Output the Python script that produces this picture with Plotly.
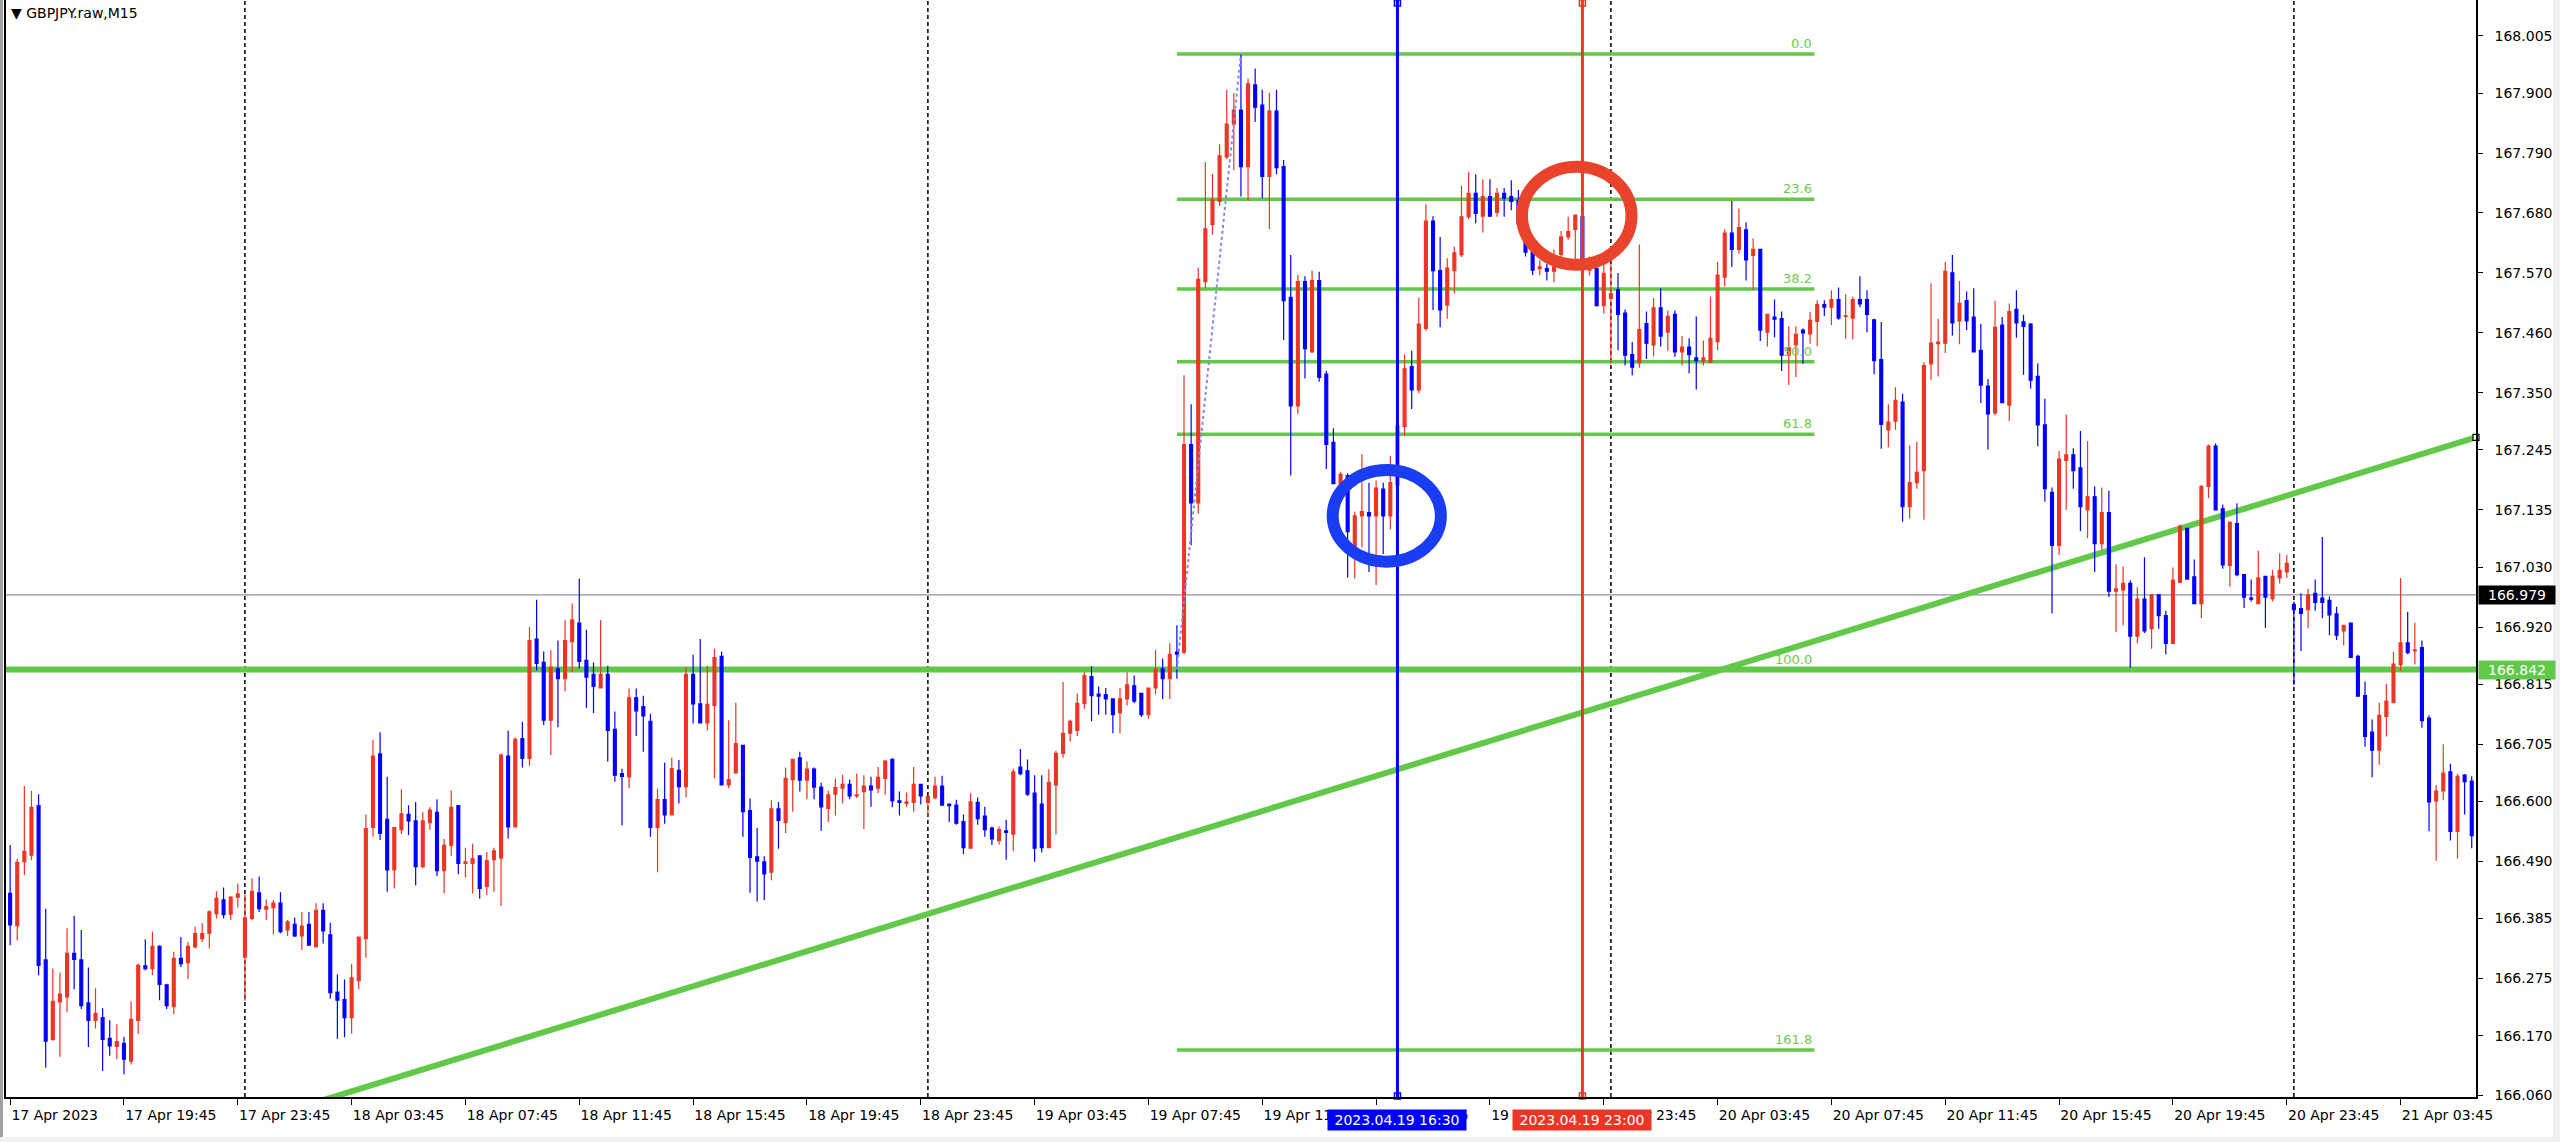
import plotly.graph_objects as go
import pandas as pd

symbol_label = "GBPJPY.raw,M15"
first_bar_time = "2023-04-17 15:45"
bar_minutes = 15

opens = [
    166.431, 166.372, 166.489, 166.501, 166.592, 166.309, 166.163, 166.232, 166.241, 166.321,
    166.309, 166.230, 166.198, 166.203, 166.165, 166.150, 166.156, 166.123, 166.198, 166.298,
    166.293, 166.334, 166.263, 166.223, 166.312, 166.304, 166.333, 166.348, 166.358, 166.394,
    166.419, 166.393, 166.424, 166.314, 166.385, 166.432, 166.402, 166.405, 166.413, 166.364,
    166.374, 166.353, 166.374, 166.333, 166.400, 166.355, 166.250, 166.236, 166.203, 166.271,
    166.348, 166.552, 166.687, 166.567, 166.474, 166.548, 166.576, 166.564, 166.480, 166.561,
    166.580, 166.473, 166.519, 166.592, 166.486, 166.486, 166.500, 166.444, 166.493, 166.496,
    166.683, 166.553, 166.715, 166.679, 166.898, 166.855, 166.749, 166.843, 166.825, 166.893,
    166.927, 166.859, 166.833, 166.808, 166.833, 166.732, 166.651, 166.645, 166.790, 166.774,
    166.747, 166.552, 166.603, 166.575, 166.657, 166.627, 166.833, 166.779, 166.744, 166.776,
    166.866, 166.630, 166.652, 166.703, 166.583, 166.498, 166.489, 166.470, 166.586, 166.561,
    166.640, 166.680, 166.639, 166.659, 166.626, 166.587, 166.613, 166.624, 166.631, 166.610,
    166.618, 166.628, 166.624, 166.642, 166.677, 166.601, 166.596, 166.598, 166.631, 166.598,
    166.607, 166.628, 166.595, 166.593, 166.563, 166.514, 166.598, 166.573, 166.551, 166.528,
    166.546, 166.540, 166.663, 166.656, 166.615, 166.595, 166.515, 166.630, 166.688, 166.725,
    166.730, 166.780, 166.829, 166.797, 166.796, 166.788, 166.763, 166.788, 166.812, 166.798,
    166.759, 166.808, 166.843, 166.825, 166.874, 166.874, 167.255, 167.148, 167.554, 167.659,
    167.701, 167.783, 167.843, 167.869, 167.765, 167.915, 167.878, 167.747, 167.867, 167.765,
    167.525, 167.326, 167.554, 167.425, 167.556, 167.384, 167.259, 167.183, 167.198, 167.066,
    167.124, 167.130, 167.124, 167.173, 167.124, 167.181, 167.288, 167.398, 167.355, 167.468,
    167.665, 167.574, 167.511, 167.574, 167.603, 167.673, 167.716, 167.674, 167.710, 167.681,
    167.716, 167.710, 167.703, 167.660, 167.608, 167.578, 167.578, 167.573, 167.604, 167.636,
    167.650, 167.673, 167.575, 167.578, 167.510, 167.523, 167.539, 167.496, 167.420, 167.405,
    167.477, 167.438, 167.506, 167.461, 167.494, 167.425, 167.434, 167.414, 167.408, 167.406,
    167.444, 167.562, 167.643, 167.613, 167.649, 167.602, 167.613, 167.461, 167.489, 167.486,
    167.419, 167.438, 167.465, 167.458, 167.481, 167.512, 167.507, 167.521, 167.490, 167.487,
    167.521, 167.521, 167.484, 167.411, 167.282, 167.298, 167.333, 167.141, 167.185, 167.207,
    167.403, 167.440, 167.441, 167.570, 167.482, 167.519, 167.489, 167.428, 167.362, 167.313,
    167.474, 167.327, 167.503, 167.480, 167.476, 167.380, 167.291, 167.167, 167.070, 167.226,
    167.236, 167.212, 167.135, 167.159, 167.073, 167.130, 166.986, 166.988, 167.000, 166.903,
    166.971, 166.917, 166.979, 166.941, 166.890, 167.002, 167.101, 167.012, 166.963, 167.178,
    167.252, 167.137, 167.033, 167.110, 167.016, 166.973, 166.963, 167.013, 166.972, 167.010,
    167.021, 166.961, 166.954, 166.952, 166.982, 166.973, 166.969, 166.944, 166.913, 166.927,
    166.866, 166.794, 166.727, 166.694, 166.756, 166.781, 166.851, 166.891, 166.876, 166.882,
    166.753, 166.601, 166.619, 166.654, 166.545, 166.648, 166.637,
]

highs = [
    166.520, 166.494, 166.628, 166.619, 166.613, 166.403, 166.293, 166.286, 166.367, 166.390,
    166.364, 166.295, 166.257, 166.220, 166.198, 166.191, 166.168, 166.233, 166.302, 166.347,
    166.361, 166.336, 166.265, 166.324, 166.351, 166.342, 166.370, 166.376, 166.400, 166.435,
    166.442, 166.426, 166.449, 166.429, 166.459, 166.462, 166.420, 166.419, 166.433, 166.382,
    166.387, 166.397, 166.397, 166.413, 166.413, 166.377, 166.282, 166.273, 166.302, 166.351,
    166.576, 166.713, 166.727, 166.645, 166.553, 166.622, 166.593, 166.599, 166.580, 166.589,
    166.604, 166.531, 166.620, 166.592, 166.515, 166.522, 166.501, 166.507, 166.515, 166.688,
    166.730, 166.717, 166.746, 166.920, 166.970, 166.875, 166.878, 166.895, 166.933, 166.963,
    167.009, 166.915, 166.855, 166.933, 166.849, 166.765, 166.660, 166.807, 166.807, 166.794,
    166.761, 166.623, 166.671, 166.680, 166.676, 166.846, 166.869, 166.898, 166.849, 166.880,
    166.875, 166.749, 166.781, 166.703, 166.605, 166.551, 166.499, 166.602, 166.599, 166.662,
    166.677, 166.691, 166.673, 166.662, 166.634, 166.620, 166.642, 166.649, 166.640, 166.651,
    166.648, 166.645, 166.663, 166.676, 166.679, 166.618, 166.616, 166.663, 166.632, 166.610,
    166.645, 166.647, 166.595, 166.603, 166.576, 166.615, 166.607, 166.590, 166.554, 166.554,
    166.566, 166.660, 166.696, 166.677, 166.648, 166.648, 166.659, 166.693, 166.819, 166.750,
    166.798, 166.837, 166.848, 166.811, 166.808, 166.788, 166.808, 166.837, 166.831, 166.798,
    166.808, 166.878, 166.862, 166.890, 166.923, 167.382, 167.329, 167.579, 167.773, 167.752,
    167.806, 167.906, 167.900, 167.972, 167.927, 167.945, 167.906, 167.900, 167.906, 167.777,
    167.603, 167.566, 167.564, 167.574, 167.572, 167.390, 167.285, 167.205, 167.202, 167.132,
    167.237, 167.185, 167.189, 167.185, 167.234, 167.312, 167.420, 167.427, 167.525, 167.696,
    167.674, 167.636, 167.597, 167.618, 167.730, 167.755, 167.751, 167.742, 167.742, 167.726,
    167.726, 167.740, 167.722, 167.665, 167.611, 167.593, 167.587, 167.613, 167.647, 167.673,
    167.676, 167.685, 167.600, 167.587, 167.587, 167.587, 167.570, 167.503, 167.443, 167.622,
    167.499, 167.524, 167.542, 167.501, 167.501, 167.454, 167.450, 167.490, 167.446, 167.526,
    167.590, 167.650, 167.702, 167.688, 167.663, 167.633, 167.613, 167.495, 167.521, 167.499,
    167.472, 167.472, 167.468, 167.498, 167.520, 167.520, 167.538, 167.543, 167.531, 167.526,
    167.564, 167.538, 167.486, 167.480, 167.329, 167.360, 167.348, 167.253, 167.260, 167.406,
    167.551, 167.486, 167.590, 167.603, 167.555, 167.536, 167.542, 167.476, 167.375, 167.519,
    167.489, 167.514, 167.538, 167.493, 167.478, 167.404, 167.339, 167.176, 167.243, 167.310,
    167.248, 167.280, 167.261, 167.178, 167.176, 167.170, 167.035, 167.031, 167.006, 166.993,
    167.048, 166.980, 166.979, 166.950, 167.029, 167.108, 167.102, 167.044, 167.180, 167.255,
    167.257, 167.145, 167.114, 167.147, 167.017, 167.007, 167.060, 167.013, 167.025, 167.055,
    167.052, 166.967, 166.982, 166.990, 167.007, 167.085, 166.976, 166.957, 166.924, 166.927,
    166.869, 166.820, 166.750, 166.781, 166.816, 166.874, 167.010, 166.948, 166.928, 166.895,
    166.758, 166.630, 166.705, 166.669, 166.650, 166.650, 166.646,
]

lows = [
    166.336, 166.345, 166.465, 166.492, 166.281, 166.111, 166.160, 166.131, 166.213, 166.255,
    166.219, 166.149, 166.183, 166.105, 166.133, 166.127, 166.099, 166.117, 166.173, 166.290,
    166.281, 166.235, 166.219, 166.209, 166.296, 166.274, 166.330, 166.342, 166.330, 166.385,
    166.385, 166.382, 166.405, 166.234, 166.382, 166.397, 166.382, 166.356, 166.358, 166.353,
    166.351, 166.327, 166.336, 166.333, 166.339, 166.238, 166.164, 166.167, 166.174, 166.255,
    166.313, 166.535, 166.529, 166.434, 166.440, 166.540, 166.538, 166.446, 166.477, 166.548,
    166.463, 166.431, 166.500, 166.466, 166.460, 166.431, 166.421, 166.428, 166.434, 166.408,
    166.532, 166.553, 166.662, 166.665, 166.840, 166.740, 166.685, 166.736, 166.802, 166.838,
    166.844, 166.772, 166.762, 166.808, 166.673, 166.636, 166.556, 166.624, 166.720, 166.691,
    166.535, 166.470, 166.559, 166.574, 166.596, 166.607, 166.743, 166.743, 166.730, 166.642,
    166.630, 166.624, 166.652, 166.535, 166.432, 166.416, 166.419, 166.455, 166.513, 166.542,
    166.581, 166.618, 166.604, 166.604, 166.546, 166.562, 166.574, 166.596, 166.604, 166.606,
    166.549, 166.590, 166.615, 166.612, 166.589, 166.574, 166.589, 166.581, 166.594, 166.572,
    166.604, 166.593, 166.562, 166.557, 166.503, 166.514, 166.557, 166.535, 166.520, 166.521,
    166.493, 166.509, 166.648, 166.610, 166.489, 166.506, 166.514, 166.539, 166.680, 166.710,
    166.720, 166.770, 166.747, 166.759, 166.759, 166.725, 166.725, 166.776, 166.780, 166.755,
    166.751, 166.796, 166.788, 166.788, 166.825, 166.870, 167.070, 167.128, 167.542, 167.640,
    167.693, 167.779, 167.759, 167.710, 167.702, 167.847, 167.707, 167.650, 167.751, 167.447,
    167.198, 167.311, 167.376, 167.423, 167.370, 167.210, 167.183, 167.150, 167.011, 167.009,
    167.066, 167.021, 166.997, 167.054, 167.099, 167.128, 167.271, 167.320, 167.349, 167.464,
    167.502, 167.470, 167.486, 167.532, 167.599, 167.669, 167.661, 167.644, 167.673, 167.673,
    167.673, 167.685, 167.650, 167.600, 167.566, 167.566, 167.556, 167.553, 167.599, 167.631,
    167.596, 167.596, 167.565, 167.510, 167.495, 167.403, 167.428, 167.400, 167.382, 167.396,
    167.412, 167.417, 167.435, 167.427, 167.416, 167.400, 167.386, 167.356, 167.400, 167.406,
    167.428, 167.545, 167.581, 167.605, 167.556, 167.538, 167.445, 167.435, 167.452, 167.390,
    167.364, 167.379, 167.403, 167.440, 167.436, 167.491, 167.474, 167.484, 167.449, 167.448,
    167.507, 167.461, 167.384, 167.247, 167.250, 167.282, 167.113, 167.119, 167.174, 167.117,
    167.374, 167.380, 167.423, 167.455, 167.439, 167.465, 167.425, 167.331, 167.246, 167.308,
    167.331, 167.298, 167.451, 167.383, 167.358, 167.252, 167.150, 166.945, 167.052, 167.135,
    167.174, 167.096, 167.083, 167.021, 167.062, 166.975, 166.911, 166.923, 166.845, 166.890,
    166.909, 166.880, 166.917, 166.870, 166.890, 167.002, 167.008, 166.963, 166.936, 167.157,
    167.135, 167.027, 166.994, 167.013, 166.955, 166.967, 166.963, 166.918, 166.967, 167.000,
    167.010, 166.814, 166.876, 166.918, 166.950, 166.936, 166.905, 166.896, 166.886, 166.863,
    166.793, 166.700, 166.644, 166.667, 166.719, 166.781, 166.839, 166.870, 166.851, 166.735,
    166.545, 166.491, 166.602, 166.528, 166.495, 166.576, 166.514,
]

closes = [
    166.373, 166.488, 166.508, 166.589, 166.299, 166.160, 166.233, 166.246, 166.321, 166.310,
    166.225, 166.198, 166.211, 166.163, 166.151, 166.159, 166.127, 166.200, 166.299, 166.293,
    166.334, 166.264, 166.225, 166.312, 166.302, 166.334, 166.357, 166.357, 166.397, 166.422,
    166.392, 166.424, 166.430, 166.386, 166.435, 166.403, 166.407, 166.413, 166.361, 166.379,
    166.353, 166.371, 166.336, 166.400, 166.362, 166.249, 166.235, 166.203, 166.276, 166.351,
    166.550, 166.683, 166.541, 166.474, 166.552, 166.577, 166.564, 166.480, 166.564, 166.584,
    166.473, 166.519, 166.589, 166.486, 166.489, 166.495, 166.440, 166.491, 166.509, 166.685,
    166.553, 166.714, 166.679, 166.895, 166.853, 166.749, 166.846, 166.825, 166.895, 166.933,
    166.857, 166.828, 166.811, 166.833, 166.730, 166.648, 166.646, 166.790, 166.766, 166.757,
    166.552, 166.603, 166.575, 166.660, 166.627, 166.833, 166.779, 166.744, 166.778, 166.864,
    166.630, 166.640, 166.706, 166.581, 166.497, 166.490, 166.467, 166.586, 166.565, 166.642,
    166.677, 166.639, 166.659, 166.626, 166.590, 166.612, 166.625, 166.631, 166.610, 166.612,
    166.628, 166.621, 166.644, 166.674, 166.601, 166.598, 166.599, 166.631, 166.610, 166.609,
    166.628, 166.593, 166.592, 166.560, 166.515, 166.599, 166.568, 166.548, 166.531, 166.548,
    166.543, 166.654, 166.651, 166.613, 166.514, 166.515, 166.635, 166.688, 166.725, 166.747,
    166.780, 166.831, 166.794, 166.793, 166.788, 166.759, 166.788, 166.814, 166.784, 166.759,
    166.808, 166.843, 166.825, 166.870, 166.870, 167.255, 167.148, 167.558, 167.651, 167.704,
    167.785, 167.843, 167.869, 167.765, 167.917, 167.874, 167.747, 167.867, 167.763, 167.519,
    167.326, 167.554, 167.431, 167.556, 167.378, 167.255, 167.183, 167.200, 167.095, 167.124,
    167.132, 167.124, 167.175, 167.124, 167.185, 167.289, 167.394, 167.355, 167.476, 167.665,
    167.574, 167.502, 167.579, 167.607, 167.673, 167.716, 167.679, 167.710, 167.674, 167.716,
    167.707, 167.701, 167.660, 167.608, 167.575, 167.581, 167.573, 167.581, 167.636, 167.646,
    167.676, 167.596, 167.585, 167.510, 167.569, 167.532, 167.494, 167.419, 167.397, 167.466,
    167.441, 167.506, 167.454, 167.490, 167.425, 167.434, 167.420, 167.409, 167.414, 167.450,
    167.566, 167.643, 167.613, 167.653, 167.594, 167.613, 167.465, 167.494, 167.485, 167.419,
    167.433, 167.457, 167.460, 167.483, 167.512, 167.507, 167.521, 167.487, 167.491, 167.521,
    167.513, 167.494, 167.409, 167.292, 167.296, 167.336, 167.141, 167.185, 167.204, 167.400,
    167.441, 167.443, 167.573, 167.478, 167.514, 167.482, 167.425, 167.364, 167.311, 167.470,
    167.332, 167.499, 167.478, 167.472, 167.373, 167.291, 167.174, 167.070, 167.228, 167.236,
    167.207, 167.141, 167.159, 167.073, 167.130, 166.986, 166.990, 167.000, 166.903, 166.971,
    166.913, 166.979, 166.941, 166.890, 167.006, 167.105, 167.008, 166.963, 167.178, 167.252,
    167.135, 167.034, 167.112, 167.016, 166.975, 166.971, 167.010, 166.975, 167.013, 167.024,
    167.037, 166.952, 166.945, 166.979, 166.965, 166.965, 166.942, 166.905, 166.923, 166.864,
    166.793, 166.719, 166.694, 166.758, 166.784, 166.852, 166.891, 166.873, 166.878, 166.748,
    166.599, 166.619, 166.652, 166.545, 166.646, 166.636, 166.537,
]

price_ticks = [168.005, 167.900, 167.790, 167.680, 167.570, 167.460, 167.350, 167.245,
               167.135, 167.030, 166.920, 166.815, 166.705, 166.600, 166.490, 166.385,
               166.275, 166.170, 166.060]
time_label_every = 16

bid_price = 166.979
support_price = 166.842
trend_bars = [43.1, 346.6]
trend_prices = [166.048, 167.268]
fib_bars = [164, 173]            # 100% anchor, 0% anchor
fib_prices = [166.842, 167.972]
fib_levels = [0.0, 23.6, 38.2, 50.0, 61.8, 100.0, 161.8]
fib_right_bar = 253.6
vline_times = ["2023-04-19 16:30", "2023-04-19 23:00"]
vline_labels = ["2023.04.19 16:30", "2023.04.19 23:00"]
circle_bars = [193.5, 220.2]
circle_prices = [167.124, 167.675]
circle_rx_bars = [7.6, 7.7]
circle_ry_price = [0.084, 0.090]

# ---------------- styles ----------------
RED = "#EE3424"
BLUE = "#0000FF"
GREEN = "#62C84A"
GREEN_TXT = "#6CCB52"
ELL_BLUE = "#1A3CF2"
ELL_RED = "#E9442B"
FONT = "DejaVu Sans"

W, H = 2560, 1142
ML, MR, MT, MB = 6, 84, 0, 45
plot_w = W - ML - MR
plot_h = H - MT - MB
x_range = [-0.58, 346.6]
y_range = [166.0573, 168.0709]
px_per_price = plot_h / (y_range[1] - y_range[0])

n = len(opens)
highs = [max(h, o, c) for h, o, c in zip(highs, opens, closes)]
lows = [min(l, o, c) for l, o, c in zip(lows, opens, closes)]
t0 = pd.Timestamp(first_bar_time)
times = pd.date_range(t0, periods=n, freq=f"{bar_minutes}min")
xs = list(range(n))

def bar_of(ts):
    return (pd.Timestamp(ts) - t0) / pd.Timedelta(minutes=bar_minutes)

tick_idx = list(range(0, n, time_label_every))
tick_txt = [times[i].strftime("%d %b %H:%M") for i in tick_idx]
tick_txt[0] = times[0].strftime("%d %b %Y")

fig = go.Figure()
fig.add_trace(go.Candlestick(
    x=xs, open=opens, high=highs, low=lows, close=closes,
    increasing=dict(line=dict(color=RED, width=1.2), fillcolor=RED),
    decreasing=dict(line=dict(color=BLUE, width=1.2), fillcolor=BLUE),
    whiskerwidth=0, hoverinfo="skip", showlegend=False,
))

shapes = []
# day separators
for i, t in enumerate(times):
    if t.hour == 0 and t.minute == 0:
        shapes.append(dict(type="line", xref="x", yref="paper", x0=i, x1=i, y0=0, y1=1,
                           line=dict(color="black", width=1.5, dash="4px,3px"), layer="below"))
# bid line
shapes.append(dict(type="line", xref="paper", yref="y", x0=0, x1=1, y0=bid_price, y1=bid_price,
                   line=dict(color="#8A94A8", width=1.2), layer="below"))
# support horizontal line
shapes.append(dict(type="line", xref="paper", yref="y", x0=0, x1=1, y0=support_price, y1=support_price,
                   line=dict(color=GREEN, width=6), layer="below"))
# trend line
shapes.append(dict(type="line", xref="x", yref="y", x0=trend_bars[0], x1=trend_bars[1],
                   y0=trend_prices[0], y1=trend_prices[1],
                   line=dict(color=GREEN, width=6), layer="below"))
# fibonacci
p100, p0 = fib_prices
fib_level_prices = [p0 - (p0 - p100) * lv / 100.0 for lv in fib_levels]
for lv, fp in zip(fib_levels, fib_level_prices):
    shapes.append(dict(type="line", xref="x", yref="y", x0=fib_bars[0], x1=fib_right_bar,
                       y0=fp, y1=fp, line=dict(color=GREEN, width=3.5), layer="below"))
shapes.append(dict(type="line", xref="x", yref="y", x0=fib_bars[0], x1=fib_bars[1],
                   y0=fib_prices[0], y1=fib_prices[1],
                   line=dict(color="#8585EE", width=2, dash="dot"), layer="above"))
# vertical lines
vcolors = [BLUE, RED]
vbars = [bar_of(t) for t in vline_times]
for vb, col in zip(vbars, vcolors):
    shapes.append(dict(type="line", xref="x", yref="paper", x0=vb, x1=vb, y0=0, y1=1,
                       line=dict(color=col, width=3), layer="above"))
# ellipses
for cb, cp, rx, ry, col in zip(circle_bars, circle_prices, circle_rx_bars, circle_ry_price,
                               [ELL_BLUE, ELL_RED]):
    shapes.append(dict(type="circle", xref="x", yref="y", x0=cb - rx, x1=cb + rx,
                       y0=cp - ry, y1=cp + ry, line=dict(color=col, width=12), layer="above"))
# window frame bits (drawn beneath axis labels)
def px_to_paper_x(px):
    return (px - ML) / plot_w
def py_to_paper_y(py):
    return 1 - (py - MT) / plot_h
shapes.append(dict(type="rect", xref="paper", yref="paper", x0=px_to_paper_x(0), x1=px_to_paper_x(3),
                   y0=py_to_paper_y(H), y1=py_to_paper_y(0), line=dict(width=0), fillcolor="#A0A0A0",
                   layer="below"))
shapes.append(dict(type="rect", xref="paper", yref="paper", x0=px_to_paper_x(2553), x1=px_to_paper_x(W),
                   y0=py_to_paper_y(H), y1=py_to_paper_y(0), line=dict(width=0), fillcolor="#F0F0F0",
                   layer="below"))
shapes.append(dict(type="rect", xref="paper", yref="paper", x0=px_to_paper_x(0), x1=px_to_paper_x(W),
                   y0=py_to_paper_y(H), y1=py_to_paper_y(1137), line=dict(width=0), fillcolor="#F0F0F0",
                   layer="below"))

# small anchor squares
top_p = y_range[1] - 3 / px_per_price
bot_p = y_range[0] + 1 / px_per_price
for vb, col in zip(vbars, vcolors):
    fig.add_trace(go.Scatter(x=[vb, vb], y=[top_p, bot_p], mode="markers", cliponaxis=False,
                             marker=dict(symbol="square", size=6, color="white",
                                         line=dict(color=col, width=1.5)),
                             hoverinfo="skip", showlegend=False))
fig.add_trace(go.Scatter(x=trend_bars, y=trend_prices, mode="markers", cliponaxis=False,
                         marker=dict(symbol="square", size=6, color="white",
                                     line=dict(color="black", width=1.2)),
                         hoverinfo="skip", showlegend=False))

annotations = []
for lv, fp in zip(fib_levels, fib_level_prices):
    annotations.append(dict(x=fib_right_bar, y=fp, xref="x", yref="y", xanchor="right",
                            yanchor="bottom", yshift=1, showarrow=False, text=f"{lv:.1f}",
                            font=dict(family=FONT, size=13, color=GREEN_TXT)))
for vb, col, lab in zip(vbars, vcolors, vline_labels):
    annotations.append(dict(x=vb, y=0, xref="x", yref="paper", xanchor="center", yanchor="top",
                            yshift=-12, showarrow=False, text=lab, bgcolor=col, borderpad=2,
                            width=134, align="center",
                            font=dict(family=FONT, size=14, color="white")))
for pr, col in [(bid_price, "black"), (support_price, GREEN)]:
    annotations.append(dict(x=1, y=pr, xref="paper", yref="y", xanchor="left", yanchor="middle",
                            xshift=2, showarrow=False, text=f"{pr:.3f}", bgcolor=col, borderpad=1,
                            width=74, align="center",
                            font=dict(family=FONT, size=14, color="white")))
annotations.append(dict(x=0, y=1, xref="paper", yref="paper", xanchor="left", yanchor="top",
                        xshift=3, yshift=-3, showarrow=False, text="\u25BC " + symbol_label,
                        font=dict(family=FONT, size=14, color="black")))

fig.update_layout(
    width=W, height=H,
    margin=dict(l=ML, r=MR, t=MT, b=MB, autoexpand=False),
    paper_bgcolor="white", plot_bgcolor="white",
    showlegend=False, boxgap=0.42,
    shapes=shapes, annotations=annotations,
    xaxis=dict(range=x_range, showgrid=False, zeroline=False, showline=True,
               linecolor="black", linewidth=1.5, ticks="outside", ticklen=6, tickwidth=1,
               tickcolor="black", tickvals=tick_idx, ticktext=tick_txt,
               ticklabelposition="outside right", ticklabelstandoff=4, automargin=False,
               tickfont=dict(family=FONT, size=14, color="black"),
               rangeslider=dict(visible=False), fixedrange=True),
    yaxis=dict(range=y_range, side="right", showgrid=False, zeroline=False, showline=True,
               mirror=True, linecolor="black", linewidth=1.5, ticks="outside", ticklen=5,
               tickwidth=1, tickcolor="black", tickvals=price_ticks,
               ticktext=[f"{v:.3f}" for v in price_ticks], ticklabelstandoff=9, automargin=False,
               tickfont=dict(family=FONT, size=14, color="black"), fixedrange=True),
)

fig.write_html("out.html", config={"displayModeBar": False},
               post_script="document.body.style.margin='0px';document.body.style.overflow='hidden';")
